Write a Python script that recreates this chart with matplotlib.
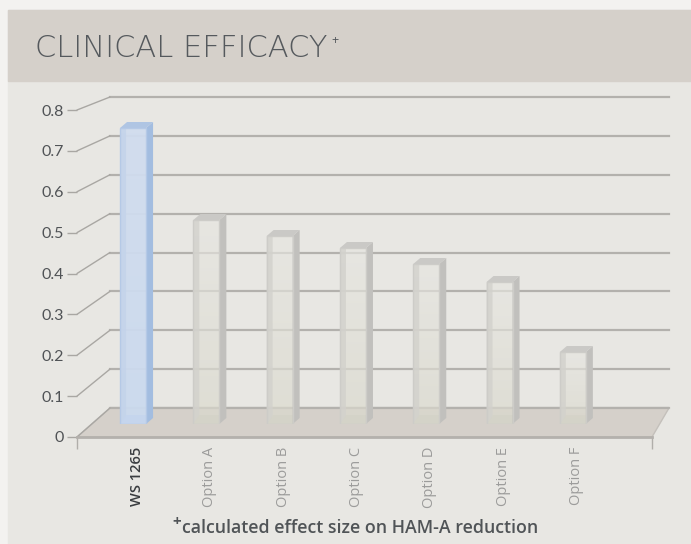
import matplotlib
matplotlib.use("Agg")
import matplotlib.pyplot as plt
import numpy as np
from matplotlib.patches import Rectangle, Polygon, ConnectionPatch
from matplotlib.transforms import IdentityTransform, ScaledTranslation
from matplotlib.colors import LinearSegmentedColormap

# chart data
categories = ["WS 1265", "Option A", "Option B", "Option C", "Option D", "Option E", "Option F"]
effect_size = [0.74, 0.51, 0.47, 0.44, 0.40, 0.355, 0.18]
y_ticks = [0, 0.1, 0.2, 0.3, 0.4, 0.5, 0.6, 0.7, 0.8]
y_tick_labels = ["0", "0.1", "0.2", "0.3", "0.4", "0.5", "0.6", "0.7", "0.8"]
highlight = "WS 1265"
title = "CLINICAL EFFICACY"
footnote = "calculated effect size on HAM-A reduction"

W, H = 691, 544
OUTER = "#f3f2f0"
HEADER = "#d5d0ca"
PANEL = "#e8e7e3"
GRID = "#b3b1ad"
FLOOR = "#d5d0ca"

fig = plt.figure(figsize=(W / 100, H / 100), dpi=100, facecolor=OUTER)


def px_rect(left, top, right, bottom):
    """pixel box (from top-left) -> figure fraction rect"""
    return [left / W, (H - bottom) / H, (right - left) / W, (bottom - top) / H]


# background panels
fig.add_artist(Rectangle((8 / W, 0), 1, (H - 10) / H, transform=fig.transFigure,
                         color=PANEL, zorder=-2))
fig.add_artist(Rectangle((8 / W, (H - 81) / H), 1, 71 / H, transform=fig.transFigure,
                         color=HEADER, zorder=-1))

# back wall with gridlines
ax_back = fig.add_axes(px_rect(110, 97, 669, 408), zorder=1)
ax_back.set_xlim(0, 1)
ax_back.set_ylim(0, 0.8)
ax_back.patch.set_visible(False)
ax_back.set_yticks(y_ticks)
ax_back.set_xticks([])
ax_back.tick_params(left=False, labelleft=False)
ax_back.grid(axis="y", color=GRID, lw=1.6)
for line in ax_back.get_ygridlines():
    line.set_clip_on(False)
for s in ax_back.spines.values():
    s.set_visible(False)

# front axis (tick labels + floor front edge)
ax_front = fig.add_axes(px_rect(77, 110, 652, 437), zorder=4)
ax_front.set_xlim(0, 1)
ax_front.set_ylim(0, 0.8)
ax_front.patch.set_visible(False)
ax_front.set_yticks(y_ticks)
ax_front.set_yticklabels(y_tick_labels)
ax_front.set_xticks([0, 1])
ax_front.set_xticklabels([])
ax_front.tick_params(axis="y", length=7.2, width=1, color="#a9a7a3", pad=2.5,
                     labelsize=11.5, labelcolor="#505356")
ax_front.tick_params(axis="x", length=8.5, width=1, color="#b0aeaa")
for lbl in ax_front.get_yticklabels():
    lbl.set_family("Lato")
for k in ["left", "top", "right"]:
    ax_front.spines[k].set_visible(False)
ax_front.spines["bottom"].set_color("#b4b1ad")
ax_front.spines["bottom"].set_linewidth(2)

# bar plane
ax_bar = fig.add_axes(px_rect(96.4, 104, 609.5, 424), zorder=3)
ax_bar.patch.set_visible(False)
for s in ax_bar.spines.values():
    s.set_visible(False)

# diagonal tick connectors from front axis to back wall
for t in y_ticks:
    con = ConnectionPatch(xyA=(0, t), coordsA=ax_front.get_yaxis_transform(),
                          xyB=(0, t), coordsB=ax_back.get_yaxis_transform(),
                          color="#a9a7a3", lw=1)
    con.set_zorder(2)
    fig.add_artist(con)

# floor
front_pts = ax_front.transData.transform([(0, 0), (1, 0)])
back_pts = ax_back.transData.transform([(1, 0), (0, 0)])
floor = Polygon(np.vstack([front_pts, back_pts]), closed=True, transform=IdentityTransform(),
                facecolor=FLOOR, edgecolor="#c4c0bb", lw=1, zorder=1.5)
fig.add_artist(floor)
fig.add_artist(Polygon(back_pts[::-1], closed=False, transform=IdentityTransform(),
                       fill=False, edgecolor=GRID, lw=1.6, zorder=1.6))

x = np.arange(len(categories))
bw = 0.355
ax_bar.set_xlim(-0.5, len(categories) - 0.5)
ax_bar.set_ylim(0, 0.8)

DX, DY = 7, 6  # depth offset in pixels
palettes = {
    True: dict(top="#d1ddee", bottom="#cbdaee", side="#a3bde0", lid="#afc5e3",
               strip="#c3d3ea", base="#c4d5ee", edge="#b5c9e6", alpha=0.95),
    False: dict(top="#e7e6e1", bottom="#dad9cd", side="#c1c0bd", lid="#cac9c6",
                strip="#d2d1cc", base="#d4d3c8", edge="#cdccc8", alpha=0.68),
}

for xi, v, name in zip(x, effect_size, categories):
    pal = palettes[name == highlight]
    x0, x1 = xi - bw / 2, xi + bw / 2
    (dx0, dy0), (dx1, dy1) = ax_bar.transData.transform([(x0, 0), (x1, v)])
    # front face gradient
    cmap = LinearSegmentedColormap.from_list("f", [pal["bottom"], pal["top"]])
    grad = np.linspace(0, 1, 64).reshape(-1, 1)
    ax_bar.imshow(grad, extent=(x0, x1, 0, v), origin="lower", aspect="auto",
                  cmap=cmap, alpha=pal["alpha"], zorder=2)
    # inner left and bottom strips (transparent box look)
    strip = Polygon([(dx0, dy0), (dx0 + 6, dy0 + 6), (dx0 + 6, dy1), (dx0, dy1)],
                    transform=IdentityTransform(), facecolor=pal["strip"], alpha=0.8,
                    lw=0, zorder=2.1)
    ax_bar.add_artist(strip)
    base = Polygon([(dx0, dy0), (dx1, dy0), (dx1, dy0 + 9), (dx0 + 6, dy0 + 9)],
                   transform=IdentityTransform(), facecolor=pal["base"], alpha=0.8,
                   lw=0, zorder=2.1)
    ax_bar.add_artist(base)
    # side face
    side = Polygon([(dx1, dy0), (dx1 + DX, dy0 + DY), (dx1 + DX, dy1 + DY), (dx1, dy1)],
                   transform=IdentityTransform(), facecolor=pal["side"], lw=0, zorder=2.2)
    ax_bar.add_artist(side)
    # top face
    lid = Polygon([(dx0, dy1), (dx1, dy1), (dx1 + DX, dy1 + DY), (dx0 + DX, dy1 + DY)],
                  transform=IdentityTransform(), facecolor=pal["lid"], lw=0, zorder=2.2)
    ax_bar.add_artist(lid)
    ax_bar.add_patch(Rectangle((x0, 0), bw, v, fill=False, edgecolor=pal["edge"],
                               lw=1, zorder=2.3))

ax_bar.set_xlim(-0.5, len(categories) - 0.5)
ax_bar.set_ylim(0, 0.8)
ax_bar.set_yticks([])
ax_bar.set_xticks(x)
ax_bar.set_xticklabels(categories, rotation=90, va="top", ha="center")
ax_bar.tick_params(axis="x", length=0, pad=16.5, labelsize=10.5)
shift = ScaledTranslation(3.5 / 100, 0, fig.dpi_scale_trans)
for lbl, name in zip(ax_bar.get_xticklabels(), categories):
    lbl.set_family("Open Sans")
    lbl.set_transform(lbl.get_transform() + shift)
    if name == highlight:
        lbl.set_color("#3a3d40")
        lbl.set_fontweight("semibold")
    else:
        lbl.set_color("#9c9c9b")

# title with superscript plus
t = fig.text(35 / W, (H - 57) / H, title, fontsize=22, family="DejaVu Sans", fontweight="light",
             color="#55595d", va="baseline", ha="left")
plus = fig.add_artist(plt.Annotation("+", xy=(1, 0.55), xycoords=t, xytext=(3, 0),
                                     textcoords="offset points", fontsize=9, color="#55595d",
                                     family="Open Sans", va="bottom", ha="left",
                                     annotation_clip=False))

# footnote
fn = fig.text(182 / W, (H - 533) / H, footnote, fontsize=12.8, color="#505457",
              va="baseline", ha="left", family="Open Sans", fontweight="semibold")
fig.text(181 / W, (H - 526) / H, "+", fontsize=11, color="#505457", fontweight="bold",
         family="Open Sans", va="baseline", ha="right")

fig.savefig("out.png", dpi=100, facecolor=OUTER)
